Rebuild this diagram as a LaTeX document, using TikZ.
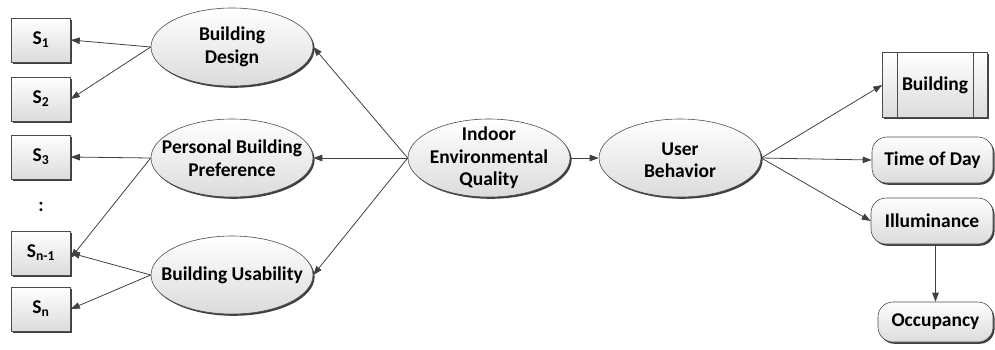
\documentclass[tikz,border=0pt]{standalone}
\usepackage{fontspec}
\setmainfont{Carlito}
\usetikzlibrary{shapes.geometric,shadows,arrows.meta,calc}
\begin{document}
\begin{tikzpicture}[x=1pt,y=-1pt,
  txt/.style={inner sep=0pt, align=center, font=\bfseries\fontsize{19.5}{22.5}\selectfont},
  base/.style={txt, draw=black!70, line width=0.6pt, top color=white, bottom color=black!14,
    drop shadow={shadow xshift=1.6pt, shadow yshift=-1.8pt, fill=black!75, opacity=1}},
  ell/.style={base, ellipse, minimum width=162pt, minimum height=78pt},
  sbox/.style={base, rectangle, minimum width=59pt, minimum height=44pt},
  rbox/.style={base, rectangle, rounded corners=15pt, minimum height=46pt},
  arr/.style={draw=black!75, line width=0.8pt, -{Triangle[length=9pt,width=6.5pt]}}
]
\useasboundingbox (0,0) rectangle (995,349);

% left boxes
\node[sbox] (s1) at (41,40) {S\textsubscript{1}};
\node[sbox] (s2) at (41,99) {S\textsubscript{2}};
\node[sbox] (s3) at (41,157) {S\textsubscript{3}};
\node[txt] (dots) at (41,207) {:};
\node[sbox] (sn1) at (41,253) {S\textsubscript{n-1}};
\node[sbox] (sn) at (41,309) {S\textsubscript{n}};

% ellipses (shape, then its text)
\node[ell] (bd) at (232,47) {};
\node[txt] (bdt) at (bd) {Building\\Design};
\node[ell] (pbp) at (232,158) {};
\node[txt] (pbpt) at (pbp) {Personal Building\\Preference};
\node[ell] (bu) at (232,275) {};
\node[txt] (but) at (bu) {Building Usability};
\node[ell] (ieq) at (489,158) {};
\node[txt] (ieqt) at (ieq) {Indoor\\Environmental\\Quality};
\node[ell] (ub) at (680,158) {};
\node[txt] (ubt) at (680,160) {User\\Behavior};

% right nodes
\node[sbox, minimum width=105pt, minimum height=65pt] (bld) at (935,85) {Building};
\draw[draw=black!70, line width=0.6pt] ($(bld.north west)+(15pt,0)$) -- ($(bld.south west)+(15pt,0)$)
  ($(bld.north east)+(-15pt,0)$) -- ($(bld.south east)+(-15pt,0)$);
\node[rbox, minimum width=121pt] (tod) at (932.5,160) {Time of Day};
\node[rbox, minimum width=122pt] (ill) at (932,221) {Illuminance};
\node[rbox, minimum width=115pt, minimum height=40pt] (occ) at (935.5,322) {Occupancy};

% connectors
\draw[arr] (ieq.west) -- (bd.east);
\draw[arr] (ieq.west) -- (pbp.east);
\draw[arr] (ieq.west) -- (bu.east);
\draw[arr] (bd.west) -- (s1.east);
\draw[arr] (bd.west) -- (s2.east);
\draw[arr] (pbp.west) -- (s3.east);
\draw[arr] (pbp.west) -- ($(sn1.east)+(0,-5pt)$);
\draw[arr] (bu.west) -- (sn1.east);
\draw[arr] (bu.west) -- (sn.east);
\draw[arr] (ieq.east) -- (ub.west);
\draw[arr] (ub.east) -- (bld.west);
\draw[arr] (ub.east) -- (tod.west);
\draw[arr] (ub.east) -- (ill.west);
\draw[arr] (ill.south -| occ.north) -- (occ.north);
\end{tikzpicture}
\end{document}
